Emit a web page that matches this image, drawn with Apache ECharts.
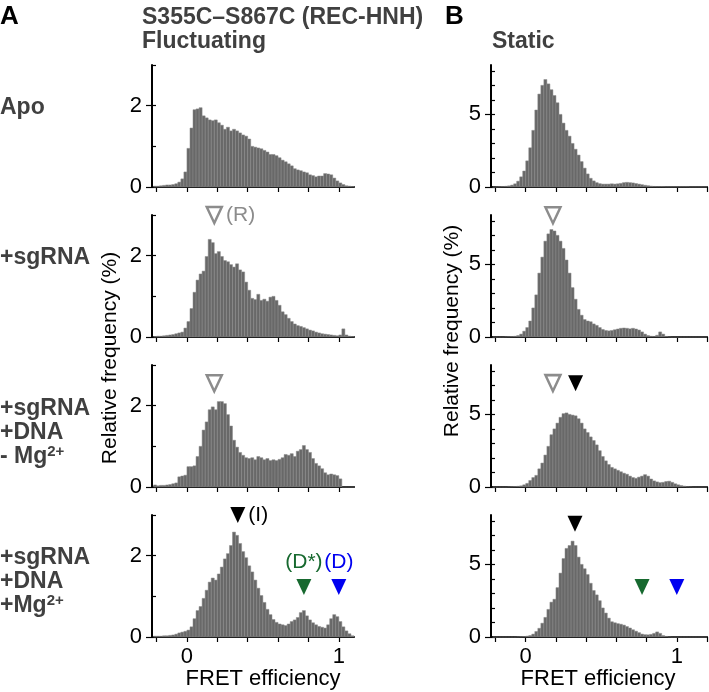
<!DOCTYPE html>
<html lang="en">
<head>
  <meta charset="utf-8">
  <title>FRET efficiency histograms</title>
</head>
<body style="margin: 0; background: #fff">
  <div id="container" style="width: 709px; height: 692px"></div>

  <script type="text/javascript" src="https://cdn.jsdelivr.net/npm/echarts@6/dist/echarts.min.js"></script>
  <script type="text/javascript">
    var dom = document.getElementById('container');
    var myChart = echarts.init(dom, null, { renderer: 'canvas' });

    // histogram bins: left edge of first bin and bin width (FRET units)
    const binStart = -0.22;
    const binW = 0.02;

    // (A) fluctuating, relative frequency (%)
    const fluctApo = [0.02,0.02,0.03,0.04,0.05,0.05,0.06,0.08,0.12,0.2,
      0.37,0.95,1.45,1.9,1.92,1.95,1.75,1.7,1.65,1.63,
      1.65,1.58,1.52,1.42,1.47,1.38,1.42,1.38,1.33,1.28,
      1.25,1.18,1.0,0.98,0.96,0.94,0.9,0.86,0.8,0.8,
      0.77,0.72,0.66,0.62,0.57,0.52,0.45,0.42,0.4,0.37,
      0.35,0.3,0.28,0.25,0.27,0.27,0.33,0.32,0.3,0.22,
      0.15,0.1,0.06,0.03,0.02,0.01];
    const fluctSg = [0.01,0.02,0.02,0.03,0.04,0.05,0.06,0.08,0.1,0.12,
      0.22,0.38,0.7,1.1,1.4,1.55,1.62,1.98,2.4,2.32,
      2.05,2.1,1.98,1.88,1.85,1.78,1.72,1.8,1.65,1.6,
      1.35,1.15,0.95,0.92,1.05,0.9,0.93,0.88,0.98,1.0,
      0.9,0.78,0.62,0.55,0.46,0.38,0.32,0.28,0.26,0.23,
      0.2,0.17,0.15,0.12,0.1,0.08,0.07,0.06,0.05,0.04,
      0.03,0.05,0.2,0.05,0.02,0.01];
    const fluctDna = [0.05,0.03,0.04,0.04,0.05,0.06,0.08,0.1,0.25,0.27,
      0.29,0.5,0.5,0.52,0.75,1.0,1.4,1.6,1.9,1.97,
      1.9,2.1,2.1,2.05,1.78,1.5,1.15,0.98,0.85,0.78,
      0.72,0.7,0.72,0.67,0.75,0.72,0.67,0.7,0.65,0.67,
      0.65,0.68,0.72,0.8,0.78,0.82,0.75,0.88,0.92,1.02,
      0.92,0.85,0.7,0.58,0.52,0.45,0.35,0.3,0.32,0.3,
      0.28,0.2,0,0,0,0];
    const fluctMg = [0.02,0.02,0.02,0.03,0.03,0.04,0.05,0.07,0.1,0.12,
      0.14,0.17,0.25,0.45,0.65,0.75,0.95,1.15,1.35,1.45,
      1.4,1.55,1.72,1.92,2.05,2.25,2.58,2.5,2.3,2.1,
      1.95,1.75,1.6,1.4,1.2,1.02,0.85,0.68,0.55,0.43,
      0.36,0.32,0.3,0.28,0.32,0.38,0.42,0.48,0.6,0.65,
      0.52,0.42,0.35,0.3,0.26,0.24,0.22,0.3,0.45,0.55,
      0.5,0.38,0.25,0.15,0.08,0.03];

    // (B) static
    const staticApo = [0,0.01,0.02,0.03,0.05,0.08,0.13,0.22,0.4,0.7,
      1.1,1.8,2.7,3.9,5.3,6.4,7.0,7.4,7.1,6.7,
      6.3,5.8,5.0,4.4,3.9,3.5,3.0,2.6,2.2,1.75,
      1.3,0.9,0.6,0.42,0.3,0.23,0.2,0.2,0.2,0.22,
      0.2,0.22,0.25,0.3,0.32,0.3,0.28,0.24,0.2,0.16,
      0.12,0.09,0.06,0.04,0.03,0.03,0.03,0.02,0.02,0.02,
      0.02,0.02,0.02,0.02,0.02,0.01,0.01,0.01,0.01,0.01,0.01];
    const staticSg = [0,0,0,0,0.01,0.02,0.03,0.05,0.1,0.2,
      0.4,0.65,1.1,2.0,2.9,4.4,5.5,6.6,7.1,7.4,
      7.3,7.0,6.6,6.1,5.3,4.4,3.4,2.6,1.9,1.5,
      1.2,1.1,1.05,0.9,0.8,0.65,0.52,0.45,0.42,0.45,
      0.5,0.55,0.6,0.62,0.6,0.56,0.6,0.55,0.48,0.35,
      0.2,0.1,0.05,0.04,0.12,0.35,0.2,0.04,0.01,0,
      0,0,0,0,0,0,0,0,0,0,0];
    const staticDna = [0,0,0,0,0,0.01,0.02,0.03,0.05,0.08,
      0.15,0.25,0.45,0.65,0.8,1.25,1.65,2.2,2.8,3.6,
      4.0,4.4,4.8,5.05,5.1,5.0,4.95,4.9,4.7,4.4,
      4.0,3.75,3.45,3.2,2.9,2.5,2.1,1.8,1.55,1.35,
      1.25,1.15,1.05,0.95,0.88,0.75,0.65,0.6,0.68,0.75,
      0.85,0.75,0.55,0.42,0.35,0.3,0.32,0.38,0.4,0.32,
      0.22,0.15,0.1,0.06,0.02,0.01,0,0,0,0,0];
    const staticMg = [0,0,0,0,0,0,0,0,0.01,0.02,
      0.03,0.06,0.1,0.2,0.38,0.6,0.95,1.35,1.9,2.4,
      2.6,3.4,4.4,5.4,6.1,6.3,6.6,6.3,5.5,5.0,
      4.7,4.3,3.7,3.2,2.9,2.5,2.0,1.65,1.3,1.05,
      0.98,0.92,0.88,0.82,0.72,0.62,0.5,0.4,0.3,0.2,
      0.16,0.15,0.18,0.25,0.35,0.25,0.1,0.04,0.01,0,
      0,0,0,0,0,0,0,0,0,0,0];

    // arrow markers: [panel, FRET, height, kind, label]
    const arrows = [
      [1, 0.18, 3.0, 'open', '(R)'],
      [2, 0.18, 2.55, 'open', ''],
      [3, 0.335, 3.0, 'I', '(I)'],
      [3, 0.77, 1.23, 'Dstar', '(D*)'],
      [3, 1.0, 1.23, 'D', '(D)'],
      [5, 0.18, 8.38, 'open', ''],
      [6, 0.18, 7.15, 'open', ''],
      [6, 0.33, 7.15, 'I', ''],
      [7, 0.326, 7.8, 'I', ''],
      [7, 0.77, 3.45, 'Dstar', ''],
      [7, 1.0, 3.45, 'D', '']
    ];

    const panels = [fluctApo, fluctSg, fluctDna, fluctMg, staticApo, staticSg, staticDna, staticMg];
    const yTicks = [[0, 1, 2, 3], [0, 1, 2, 3, 4, 5, 6, 7, 8]];
    const yLabels = [[0, 2], [0, 5]];
    const xTicks = [[-0.2, 0, 0.2, 0.4, 0.6, 0.8, 1.0], [-0.2, 0, 0.2, 0.4, 0.6, 0.8, 1.0, 1.2]];

    const FONT = 'Liberation Sans, Arial, sans-serif';
    const kindStyle = {
      open: { fill: '#fff', stroke: '#8c8c8c', text: '#8c8c8c', pos: 'right' },
      I: { fill: '#000', stroke: '#000', text: '#000', pos: 'right' },
      Dstar: { fill: '#17692f', stroke: '#17692f', text: '#17692f', pos: 'top' },
      D: { fill: '#0000f0', stroke: '#0000f0', text: '#0000f0', pos: 'top' }
    };

    const grid = [], xAxis = [], yAxis = [], series = [];
    panels.forEach(function (vals, p) {
      const col = p < 4 ? 0 : 1;
      const row = p % 4;
      grid.push({
        left: col === 0 ? 152 : 491,
        top: 65 + 150 * row,
        width: col === 0 ? 202 : 216,
        height: 122
      });
      xAxis.push({
        type: 'value', gridIndex: p,
        min: -0.23, max: col === 0 ? 1.1 : 1.2,
        splitLine: { show: false },
        axisLine: { onZero: false, lineStyle: { color: '#000', width: 2 } },
        axisTick: { length: 5, customValues: xTicks[col], lineStyle: { color: '#000', width: 1.2 } },
        axisLabel: {
          show: row === 3, customValues: [0, 1], margin: 9,
          color: '#000', fontSize: 22, fontFamily: FONT
        }
      });
      const ymax = col === 0 ? 3 : 8.4;
      yAxis.push({
        type: 'value', gridIndex: p, min: 0, max: ymax, position: 'left',
        splitLine: { show: false },
        axisLine: { onZero: false, lineStyle: { color: '#000', width: 2 } },
        axisTick: { inside: true, length: 4, customValues: yTicks[col], lineStyle: { color: '#000', width: 1.2 } },
        axisLabel: { customValues: yLabels[col], margin: 10, color: '#000', fontSize: 22, fontFamily: FONT }
      });
      // outward ticks at labelled values
      yAxis.push({
        type: 'value', gridIndex: p, min: 0, max: ymax, position: 'left',
        splitLine: { show: false },
        axisLine: { show: false, onZero: false },
        axisTick: { length: 6, customValues: yLabels[col], lineStyle: { color: '#000', width: 1.2 } },
        axisLabel: { show: false }
      });
      series.push({
        type: 'custom',
        xAxisIndex: p, yAxisIndex: 2 * p,
        data: vals.map(function (v, i) { return [binStart + i * binW, v]; }),
        encode: { x: 0, y: 1 },
        renderItem: function (params, api) {
          const x0 = api.value(0);
          const top = api.coord([x0, api.value(1)]);
          const bot = api.coord([x0 + binW, 0]);
          return {
            type: 'rect',
            shape: { x: top[0], y: top[1], width: bot[0] - top[0], height: bot[1] - top[1] },
            style: { fill: '#686868', stroke: '#8a8a8a', lineWidth: 0.5 }
          };
        },
        z: 1
      });
      const marks = arrows.filter(function (a) { return a[0] === p; });
      if (marks.length) {
        series.push({
          type: 'scatter',
          xAxisIndex: p, yAxisIndex: 2 * p,
          clip: false,
          symbol: 'triangle',
          symbolRotate: 180,
          symbolSize: [15, 16],
          z: 5,
          data: marks.map(function (a) {
            const s = kindStyle[a[3]];
            return {
              value: [a[1], a[2]],
              itemStyle: { color: s.fill, opacity: 1, borderColor: s.stroke, borderWidth: a[3] === 'open' ? 2.5 : 0 },
              label: {
                show: a[4] !== '', formatter: a[4], position: s.pos,
                distance: s.pos === 'top' ? 6 : 3,
                color: s.text, fontSize: 21, fontFamily: FONT
              }
            };
          })
        });
      }
    });

    const GRAY = '#404040';
    const boldTitle = { fill: GRAY, font: 'bold 23px ' + FONT, textVerticalAlign: 'middle' };
    function txt(x, y, text, style) {
      return { type: 'text', x: x, y: y, style: Object.assign({ text: text }, style) };
    }
    const rich = {
      b: { fontSize: 23, fontWeight: 'bold', fontFamily: FONT, fill: GRAY, lineHeight: 24 },
      sup: { fontSize: 15, fontWeight: 'bold', fontFamily: FONT, fill: GRAY, lineHeight: 24, padding: [0, 0, 10, 0] }
    };
    function richLabel(x, y, text) {
      return { type: 'text', x: x, y: y, style: { text: text, rich: rich, fill: GRAY, textVerticalAlign: 'middle' } };
    }

    option = {
      animation: false,
      grid: grid,
      xAxis: xAxis,
      yAxis: yAxis,
      series: series,
      graphic: [
        txt(0, 17, 'A', { fill: '#000', font: 'bold 26px ' + FONT, textVerticalAlign: 'middle' }),
        txt(445, 17, 'B', { fill: '#000', font: 'bold 26px ' + FONT, textVerticalAlign: 'middle' }),
        txt(142, 18, 'S355C\u2013S867C (REC-HNH)', boldTitle),
        txt(142, 42, 'Fluctuating', boldTitle),
        txt(492, 42, 'Static', boldTitle),
        txt(0, 108, 'Apo', boldTitle),
        txt(0, 258, '+sgRNA', boldTitle),
        richLabel(0, 433, '{b|+sgRNA}\n{b|+DNA}\n{b|- Mg}{sup|2+}'),
        richLabel(0, 582, '{b|+sgRNA}\n{b|+DNA}\n{b|+Mg}{sup|2+}'),
        { type: 'text', x: 110, y: 358, rotation: Math.PI / 2,
          style: { text: 'Relative frequency (%)', fill: '#000', font: '21px ' + FONT, textAlign: 'center', textVerticalAlign: 'middle' } },
        { type: 'text', x: 452, y: 331, rotation: Math.PI / 2,
          style: { text: 'Relative frequency (%)', fill: '#000', font: '21px ' + FONT, textAlign: 'center', textVerticalAlign: 'middle' } },
        txt(263, 679, 'FRET efficiency', { fill: '#000', font: '22px ' + FONT, textAlign: 'center', textVerticalAlign: 'middle' }),
        txt(598, 679, 'FRET efficiency', { fill: '#000', font: '22px ' + FONT, textAlign: 'center', textVerticalAlign: 'middle' })
      ]
    };

    myChart.setOption(option);
  </script>
</body>
</html>
